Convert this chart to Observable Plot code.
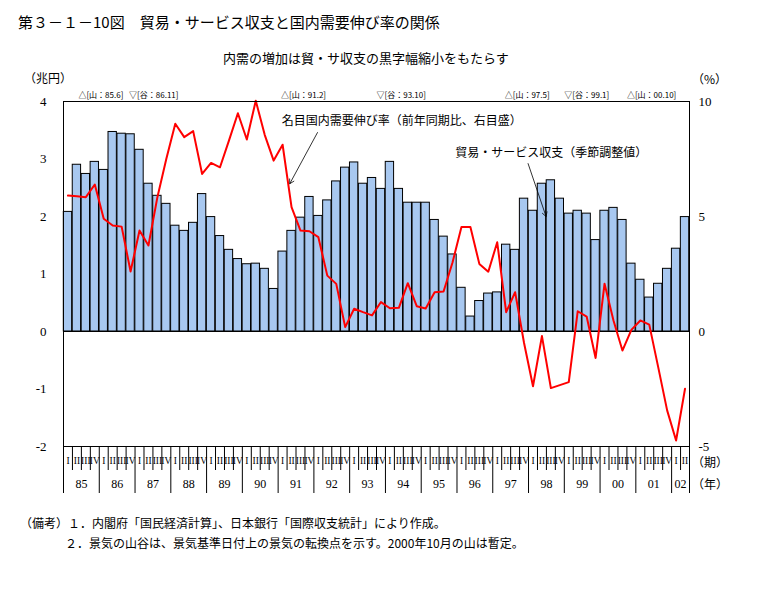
<!DOCTYPE html>
<html><head><meta charset="utf-8">
<script src="https://cdn.jsdelivr.net/npm/d3@7"></script>
<script src="https://cdn.jsdelivr.net/npm/@observablehq/plot@0.6"></script>
<style>
body{margin:0;background:#fff;font-family:"Noto Sans CJK JP",sans-serif;color:#000;}
#wrap{position:relative;width:770px;height:600px;overflow:hidden;}
.t{position:absolute;white-space:nowrap;line-height:1;z-index:2;}
#chart{position:absolute;left:0;top:60px;z-index:1;}
#chart svg{background:transparent !important;}
</style></head><body>
<div id="wrap">
<div class="t" style="left:18px;top:14px;font-size:15px;">第３－１－10図　貿易・サービス収支と国内需要伸び率の関係</div>
<div class="t" style="left:223px;top:51px;font-size:13px;">内需の増加は貿・サ収支の黒字幅縮小をもたらす</div>
<div class="t" style="left:24px;top:72px;font-size:12px;">（兆円）</div>
<div class="t" style="left:692px;top:73px;font-size:12px;">（%）</div>
<div id="chart"></div>
<div class="t" style="left:692px;top:456px;font-size:12px;">（期）</div>
<div class="t" style="left:692px;top:478px;font-size:12px;">（年）</div>
<div class="t" style="left:20px;top:517px;font-size:12px;">（備考）１．内閣府「国民経済計算」、日本銀行「国際収支統計」により作成。</div>
<div class="t" style="left:65px;top:537px;font-size:12px;">２．景気の山谷は、景気基準日付上の景気の転換点を示す。2000年10月の山は暫定。</div>
</div>
<script>
// ---- data ----
const years = ["85","86","87","88","89","90","91","92","93","94","95","96","97","98","99","00","01","02"];
const quarterNames = ["I","II","III","IV"];
// 貿易・サービス収支（季節調整値, 兆円）1985Q1–2002Q2
const tradeBalance = [
  2.08, 2.90, 2.74, 2.95,
  2.81, 3.47, 3.44, 3.43,
  3.16, 2.57, 2.36, 2.22,
  1.84, 1.75, 1.89, 2.39,
  1.99, 1.66, 1.42, 1.26,
  1.17, 1.18, 1.09, 0.74,
  1.39, 1.75, 1.98, 2.34,
  2.01, 2.28, 2.61, 2.85,
  2.94, 2.57, 2.67, 2.48,
  2.95, 2.48, 2.24, 2.24,
  2.24, 1.94, 1.65, 1.34,
  0.76, 0.26, 0.53, 0.66,
  0.68, 1.51, 1.42, 2.31,
  2.10, 2.57, 2.63, 2.31,
  2.05, 2.10, 2.05, 1.59,
  2.10, 2.15, 1.94, 1.18,
  0.90, 0.59, 0.83, 1.09,
  1.44, 1.99
];
// 名目国内需要伸び率（前年同期比, %, 右目盛）
const demandGrowth = [
  5.91, 5.88, 5.84, 6.39,
  4.90, 4.61, 4.56, 2.61,
  4.39, 3.74, 5.84, 7.51,
  9.03, 8.45, 8.71, 6.85,
  7.33, 7.14, 8.30, 9.49,
  8.35, 10.03, 8.55, 7.43,
  8.12, 5.41, 4.39, 4.36,
  4.10, 2.43, 2.07, 0.19,
  0.99, 0.84, 0.70, 1.28,
  1.01, 1.03, 2.10, 1.10,
  1.00, 1.71, 1.74, 3.00,
  4.54, 4.54, 2.94, 2.60,
  3.88, 0.84, 1.71, -0.50,
  -2.38, -0.20, -2.46, -2.33,
  -2.20, 0.88, 0.65, -1.15,
  2.08, 0.48, -0.83, 0.07,
  0.48, 0.30, -1.55, -3.43,
  -4.74, -2.49
];
// 景気の山谷
const turnLabels = ["△[山：85.6]","▽[谷：86.11]","△[山：91.2]","▽[谷：93.10]","△[山：97.5]","▽[谷：99.1]","△[山：00.10]"];
const turnYears = [1985, 1986, 1991, 1993, 1997, 1999, 2000];
const turnMonths = [6, 11, 2, 10, 5, 1, 10];

const leftTicks = [-2, -1, 0, 1, 2, 3, 4];
const rightTicks = [-5, 0, 5, 10];
const ratio = 2.5; // right scale (%) per left scale unit (兆円)

// ---- build tables ----
const rows = tradeBalance.map((v, i) => ({i, q: quarterNames[i % 4], trade: v, growth: demandGrowth[i]}));
const nQ = rows.length;
const turns = turnLabels.map((t, k) => ({t, pos: (turnYears[k] - 1985) * 4 + (turnMonths[k] - 1) / 3}));
const yearRows = years.map((y, k) => ({y, c: Math.min(k * 4 + 2, (k * 4 + nQ) / 2)}));
const quarterBounds = d3.range(0, nQ + 1).filter(i => i % 4 !== 0 && i !== nQ);
const yearBounds = d3.range(0, nQ + 1, 4).concat([nQ]);

const JP = "Noto Sans CJK JP";
const NUM = "Liberation Serif";
const frameH = 445 - 41 - 59;

const chart = Plot.plot({
  width: 770,
  height: 445,
  marginLeft: 63,
  marginRight: 81,
  marginTop: 41,
  marginBottom: 59,
  x: {domain: [0, nQ], axis: null},
  y: {domain: [-2, 4]},
  style: {background: "transparent", color: "black"},
  marks: [
    Plot.rectY(rows, {x1: d => d.i, x2: d => d.i + 1, y1: 0, y2: "trade",
      fill: "#a8c8f0", stroke: "#000", strokeWidth: 1, insetLeft: 0.3, insetRight: 0.3}),
    Plot.ruleY([0], {stroke: "#000", strokeWidth: 1}),
    Plot.line(rows, {x: d => d.i + 0.5, y: d => d.growth / ratio, stroke: "#ff0000", strokeWidth: 2}),
    Plot.frame({stroke: "#000", strokeWidth: 1}),
    Plot.axisY({anchor: "left", ticks: leftTicks, tickSize: 0, tickPadding: 17,
      tickFormat: d => String(d), label: null, fontSize: 13, fontFamily: NUM}),
    Plot.axisY({anchor: "right", ticks: rightTicks.map(v => v / ratio), tickSize: 0, tickPadding: 9,
      tickFormat: d => String(Math.round(d * ratio)), label: null, fontSize: 13, fontFamily: NUM}),
    // x axis: quarter and year separators
    Plot.ruleX(quarterBounds, {stroke: "#000", strokeWidth: 1, insetTop: frameH, insetBottom: -24}),
    Plot.ruleX(yearBounds, {stroke: "#000", strokeWidth: 1, insetTop: frameH, insetBottom: -47}),
    Plot.text(rows, {x: d => d.i + 0.5, text: "q", frameAnchor: "bottom", dy: 17,
      fontSize: 9.5, fontFamily: NUM}),
    Plot.text(yearRows, {x: "c", text: "y", frameAnchor: "bottom", dy: 41, fontSize: 12, fontFamily: NUM}),
    // business cycle turning points
    Plot.text(turns, {x: "pos", text: "t", frameAnchor: "top", dy: -9, textAnchor: "start",
      fontSize: 8, fontFamily: JP}),
    // annotations
    Plot.text(["名目国内需要伸び率（前年同期比、右目盛）"], {x: 24.4, y: 3.65, text: d => d,
      textAnchor: "start", fontSize: 12, fontFamily: JP}),
    Plot.arrow([{x1: 28.4, y1: 3.46, x2: 25.3, y2: 2.57}], {x1: "x1", y1: "y1", x2: "x2", y2: "y2",
      stroke: "#000", strokeWidth: 0.8, headLength: 9}),
    Plot.text(["貿易・サービス収支（季節調整値）"], {x: 43.8, y: 3.10, text: d => d,
      textAnchor: "start", fontSize: 12, fontFamily: JP}),
    Plot.arrow([{x1: 51.95, y1: 2.92, x2: 53.96, y2: 2.0}], {x1: "x1", y1: "y1", x2: "x2", y2: "y2",
      stroke: "#000", strokeWidth: 0.8, headLength: 9})
  ]
});
document.getElementById("chart").appendChild(chart);
</script>
</body></html>
